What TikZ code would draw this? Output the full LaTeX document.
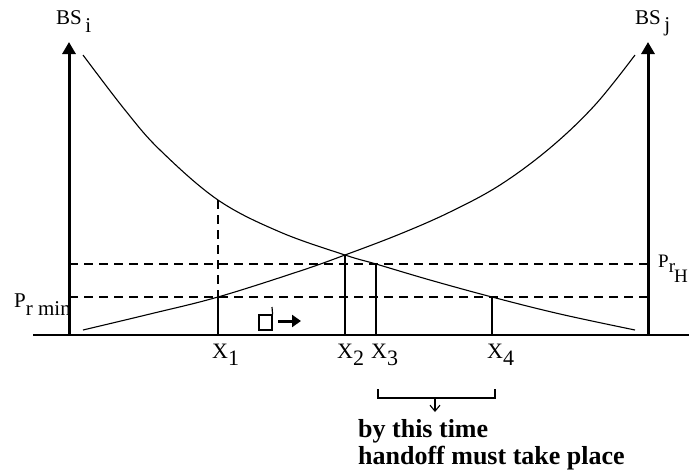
\documentclass[tikz,border=0pt]{standalone}
\usepackage{fontspec}
\setmainfont{Liberation Serif}
\usetikzlibrary{arrows.meta}
\begin{document}
\begin{tikzpicture}[x=1pt,y=-1pt,
  thinline/.style={line width=1.1pt},
  dashline/.style={line width=1.1pt, dash pattern=on 9pt off 6pt},
  bsarrow/.style={line width=3pt, -{Triangle[length=12pt,width=13pt]}},
  lbl/.style={font=\fontsize{22}{24}\selectfont, inner sep=0pt, anchor=base west},
  plbl/.style={font=\fontsize{21}{23}\selectfont, inner sep=0pt, anchor=base west},
  hlbl/.style={font=\fontsize{19}{21}\selectfont, inner sep=0pt, anchor=base west},
  boldlbl/.style={font=\fontsize{26}{28}\selectfont\bfseries, inner sep=0pt, anchor=base west}]

\path[use as bounding box, fill=white] (0,0) rectangle (689,475);

% axis
\coordinate (axL) at (33,335);
\coordinate (axR) at (689,335);
\draw[thinline] (axL) -- (axR);

% base station arrows
\coordinate (bsiB) at (69,335); \coordinate (bsiT) at (69,42);
\coordinate (bsjB) at (648,335); \coordinate (bsjT) at (648,42);
\draw[bsarrow] (bsiB) -- (bsiT);
\draw[bsarrow] (bsjB) -- (bsjT);

% threshold dashed lines
\coordinate (hL) at (69,264); \coordinate (hR) at (648,264);
\coordinate (mL) at (69,297); \coordinate (mR) at (648,297);
\draw[dashline] (hL) -- (hR);
\draw[dashline] (mL) -- (mR);

% signal curves
\draw[thinline] plot[smooth, tension=0.6] coordinates {(83,55) (125,110) (160,150) (218,200) (280,232) (345,255) (376,264) (430,280) (492,297) (560,314) (635,330)};
\draw[thinline] plot[smooth, tension=0.6] coordinates {(83,330) (150,314) (218,297) (300,271) (345,255) (400,234) (450,212) (500,185) (550,148) (595,105) (635,55)};

% verticals
\coordinate (x1t) at (218,200); \coordinate (x1m) at (218,297); \coordinate (x1b) at (218,335);
\draw[dashline] (x1t) -- (x1m);
\draw[thinline] (x1m) -- (x1b);
\coordinate (x2t) at (345,255); \coordinate (x2b) at (345,335);
\draw[thinline] (x2t) -- (x2b);
\coordinate (x3t) at (376,264); \coordinate (x3b) at (376,335);
\draw[thinline] (x3t) -- (x3b);
\coordinate (x4t) at (492,297); \coordinate (x4b) at (492,335);
\draw[thinline] (x4t) -- (x4b);

% labels
\node[lbl] (X1) at (212,358) {X\raisebox{-7pt}{1}};
\node[lbl] (X2) at (337,358) {X\raisebox{-7pt}{2}};
\node[lbl] (X3) at (371,358) {X\raisebox{-7pt}{3}};
\node[lbl] (X4) at (487,358) {X\raisebox{-7pt}{4}};
\node[plbl] (BSi) at (56,24) {BS\,\raisebox{-8pt}{i}};
\node[plbl] (BSj) at (635,24) {BS\,\raisebox{-7pt}{j}};
\node[plbl] (Prmin) at (14,307) {P\raisebox{-8pt}{r min}};
\node[hlbl] (PrH) at (658,267) {P\raisebox{-5pt}{r}\hspace{-1pt}\raisebox{-15pt}{H}};

% mobile and direction arrow
\node[draw, line width=1.2pt, minimum width=13pt, minimum height=15pt, inner sep=0pt] (mob) at (265.5,322.5) {};
\coordinate (mobtick) at (272,307);
\draw[line width=1.2pt] (mob.north east) -- (mobtick);
\coordinate (dirS) at (278,321); \coordinate (dirE) at (301,321);
\draw[line width=3pt, -{Triangle[length=9pt,width=12pt]}] (dirS) -- (dirE);

% bracket
\coordinate (brLt) at (378,389); \coordinate (brLb) at (378,398);
\coordinate (brRb) at (495,398); \coordinate (brRt) at (495,389);
\draw[thinline] (brLt) -- (brLb) -- (brRb) -- (brRt);
\coordinate (brA) at (435,398); \coordinate (brB) at (435,412);
\draw[thinline, -{Straight Barb[length=6pt,width=10pt]}] (brA) -- (brB);

\node[boldlbl] (t1) at (358,437) {by this time};
\node[boldlbl] (t2) at (358,464) {handoff must take place};
\end{tikzpicture}
\end{document}
